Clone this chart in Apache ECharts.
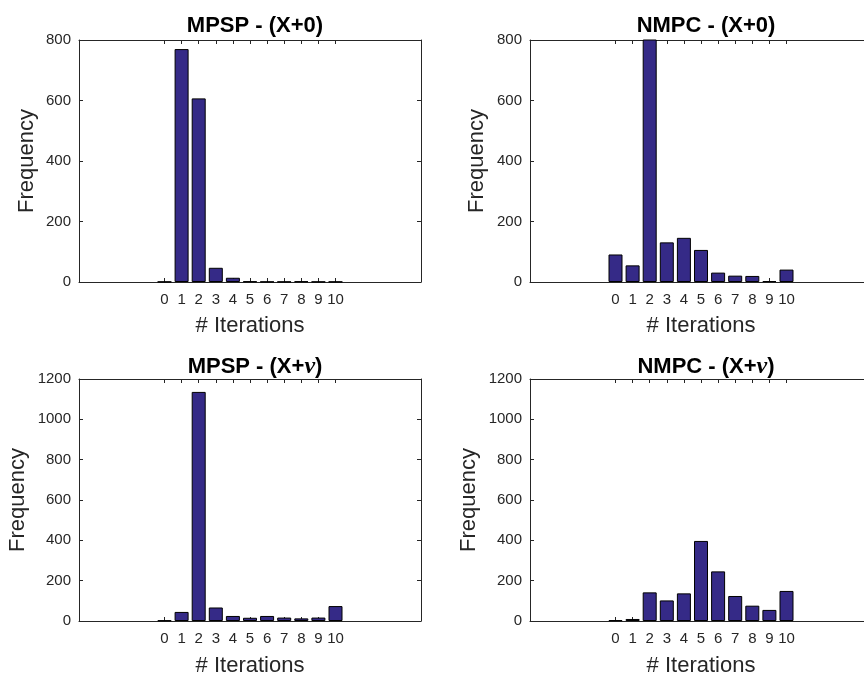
<!DOCTYPE html>
<html>
<head>
<meta charset="utf-8">
<script src="https://cdn.jsdelivr.net/npm/echarts@6/dist/echarts.min.js"></script>
<style>
  html, body { margin: 0; padding: 0; background: #fff; }
  #main { width: 864px; height: 676px; }
</style>
</head>
<body>
<div id="main"></div>
<script>
var iterations = [0, 1, 2, 3, 4, 5, 6, 7, 8, 9, 10];

var mpspX0  = [1, 770, 607, 47, 14, 2, 1, 1, 2, 1, 1];
var nmpcX0  = [91, 55, 1010, 131, 146, 106, 31, 21, 20, 3, 41];
var mpspXnu = [3, 45, 1136, 67, 25, 16, 25, 17, 13, 17, 74];
var nmpcXnu = [4, 10, 142, 102, 137, 397, 246, 124, 76, 55, 149];

var panels = [
    {title: 'MPSP - (X+0)', nu: false, data: mpspX0, max: 800},
    {title: 'NMPC - (X+0)', nu: false, data: nmpcX0, max: 800},
    {title: 'MPSP - (X+', nu: true, data: mpspXnu, max: 1200},
    {title: 'NMPC - (X+', nu: true, data: nmpcXnu, max: 1200}
];

var font = 'Liberation Sans';
var axisColor = '#262626';
var grids = [
    {left: 79, top: 40, width: 342, height: 242},
    {left: 530, top: 40, width: 342, height: 242},
    {left: 79, top: 379, width: 342, height: 242},
    {left: 530, top: 379, width: 342, height: 242}
];
var titleTops = [10, 10, 350, 350];
var yNameGaps = [41, 42, 50, 50];
var xNameGaps = [33, 33, 34, 34];

var option = {
    animation: false,
    backgroundColor: '#fff',
    title: [],
    grid: [],
    xAxis: [],
    yAxis: [],
    series: []
};

panels.forEach(function(p, i) {
    var g = grids[i];
    option.grid.push({
        left: g.left, top: g.top, width: g.width, height: g.height,
        containLabel: false,
        outerBoundsMode: 'none'
    });

    var text = p.nu ? '{b|' + p.title + '}{nu|ν}{b|)}' : '{b|' + p.title + '}';
    option.title.push({
        text: text,
        left: g.left + g.width / 2,
        top: titleTops[i],
        textAlign: 'center',
        textStyle: {
            rich: {
                b: {fontFamily: font, fontWeight: 'bold', fontSize: 22, color: '#000'},
                nu: {fontFamily: 'Liberation Serif', fontStyle: 'italic', fontSize: 24, color: '#000'}
            }
        }
    });

    // bottom x axis
    option.xAxis.push({
        type: 'value',
        gridIndex: i,
        min: -5,
        max: 15,
        position: 'bottom',
        name: '# Iterations',
        nameLocation: 'middle',
        nameGap: xNameGaps[i],
        nameTextStyle: {fontFamily: font, fontSize: 22, color: axisColor},
        axisLine: {show: true, onZero: false, lineStyle: {color: axisColor, width: 1}},
        axisTick: {show: true, inside: true, length: 4, customValues: iterations, lineStyle: {color: axisColor}},
        axisLabel: {show: true, customValues: iterations, fontFamily: font, fontSize: 15, color: axisColor, margin: 10},
        splitLine: {show: false}
    });
    // top x axis (box + ticks)
    option.xAxis.push({
        type: 'value',
        gridIndex: i,
        min: -5,
        max: 15,
        position: 'top',
        axisLine: {show: true, onZero: false, lineStyle: {color: axisColor, width: 1}},
        axisTick: {show: true, inside: true, length: 4, customValues: iterations, lineStyle: {color: axisColor}},
        axisLabel: {show: false},
        splitLine: {show: false}
    });
    // left y axis
    option.yAxis.push({
        type: 'value',
        gridIndex: i,
        min: 0,
        max: p.max,
        interval: 200,
        position: 'left',
        name: 'Frequency',
        nameLocation: 'middle',
        nameGap: yNameGaps[i],
        nameTextStyle: {fontFamily: font, fontSize: 22, color: axisColor},
        axisLine: {show: true, onZero: false, lineStyle: {color: axisColor, width: 1}},
        axisTick: {show: true, inside: true, length: 4, lineStyle: {color: axisColor}},
        axisLabel: {
            fontFamily: font, fontSize: 15, color: axisColor, margin: 8,
            formatter: function(v) { return String(v); }
        },
        splitLine: {show: false}
    });
    // right y axis (box + ticks)
    option.yAxis.push({
        type: 'value',
        gridIndex: i,
        min: 0,
        max: p.max,
        interval: 200,
        position: 'right',
        axisLine: {show: true, onZero: false, lineStyle: {color: axisColor, width: 1}},
        axisTick: {show: true, inside: true, length: 4, lineStyle: {color: axisColor}},
        axisLabel: {show: false},
        splitLine: {show: false}
    });

    option.series.push({
        type: 'bar',
        xAxisIndex: i * 2,
        yAxisIndex: i * 2,
        barWidth: 14,
        clip: true,
        itemStyle: {color: '#352a87', borderColor: '#000', borderWidth: 1},
        data: iterations.map(function(x, k) { return [x, p.data[k]]; })
    });
});

var myChart = echarts.init(document.getElementById('main'), null, {renderer: 'canvas'});
myChart.setOption(option);
</script>
</body>
</html>
